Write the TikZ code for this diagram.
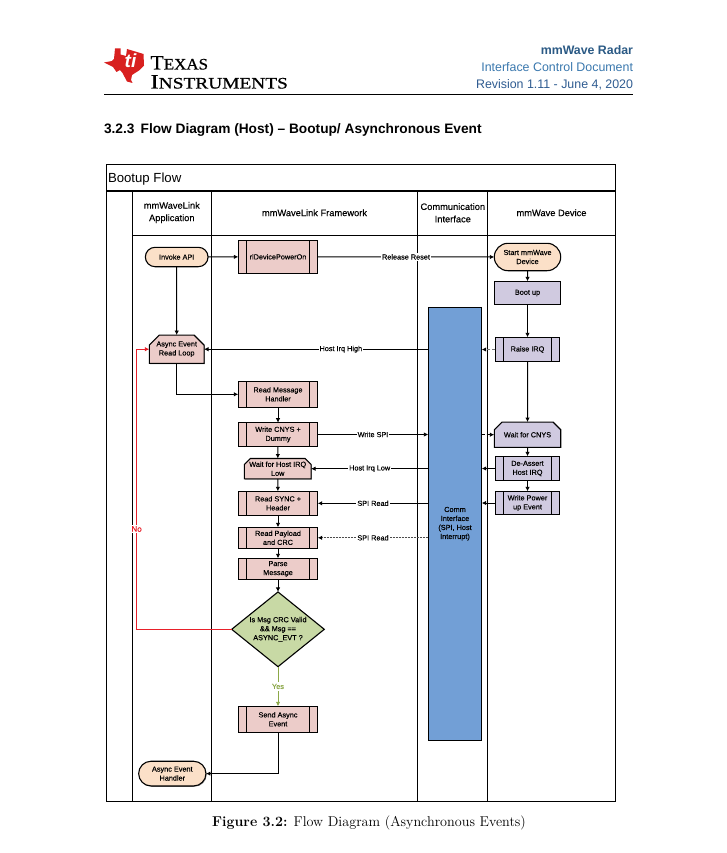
\documentclass[tikz,border=0pt]{standalone}
\usepackage{graphicx}
\usepackage{fontspec}
\setsansfont{Liberation Sans}
\newfontfamily\tifont[FakeBold=0.6]{Liberation Serif}
\newfontfamily\boxfont[FakeBold=0.25]{Liberation Sans}
\usetikzlibrary{arrows.meta,shapes.misc,shapes.geometric,shadows}
\definecolor{procpink}{HTML}{ECCCC9}
\definecolor{startor}{HTML}{FBE0C8}
\definecolor{devpurple}{HTML}{D0CAE0}
\definecolor{decgreen}{HTML}{C8D9A5}
\definecolor{commblue}{HTML}{729FD6}
\definecolor{nored}{HTML}{E8202A}
\definecolor{yesgreen}{HTML}{8CA848}
\definecolor{tired}{HTML}{D8201F}
\definecolor{hdrA}{HTML}{2B5A85}
\definecolor{hdrB}{HTML}{3A78AE}
\definecolor{hdrC}{HTML}{2F5C91}
\tikzset{
  x=1pt,y=-1pt,
  every node/.style={font=\boxfont\fontsize{7.3}{9}\selectfont,align=center,inner sep=0pt,outer sep=0pt,text=black},
  boxline/.style={draw=black,line width=1.1pt},
  proc/.style={boxline,rectangle,fill=#1,minimum width=79.4pt,
    path picture={\draw[line width=1.1pt]
      ([xshift=8.2pt]path picture bounding box.north west)--([xshift=8.2pt]path picture bounding box.south west)
      ([xshift=-8.2pt]path picture bounding box.north east)--([xshift=-8.2pt]path picture bounding box.south east);}},
  softshadow/.style={drop shadow={shadow xshift=0.8pt,shadow yshift=-0.8pt,fill=black,opacity=0.45}},
  term/.style={boxline,rounded rectangle,fill=startor},
  prep/.style={boxline,chamfered rectangle,chamfered rectangle corners={north west,north east},chamfered rectangle xsep=5pt,chamfered rectangle ysep=5pt,fill=#1},
  plainbox/.style={boxline,rectangle,fill=#1},
  link/.style={draw=black,line width=1pt,-{Latex[length=4.5pt,width=4.5pt,black]}},
  lab/.style={fill=white,inner xsep=1pt,inner ysep=1.5pt},
  lane/.style={draw=black,line width=1.1pt},
  hd/.style={font=\boxfont\fontsize{9.3}{12.4}\selectfont},
}
\begin{document}
\begin{tikzpicture}
\useasboundingbox (0,0) rectangle (727,853);
\fill[white] (0,0) rectangle (727,853);

% logo
\fill[tired] (115,48.5) -- (120.5,48.5) -- (120.5,54.5) -- (126,56) -- (127,49) -- (143.5,54) -- (144,65.5)
  -- (139,70.5) -- (132,75) -- (131,80) -- (132.5,83) -- (127,81.5) -- (122.5,73) -- (120,70) -- (116.5,72)
  -- (113,67) -- (104,62.5) -- (112,61) -- (114,59) -- cycle;
\node[text=white,font=\sffamily\bfseries\itshape\fontsize{19}{19}\selectfont] (tiglyph) at (130.5,61) {ti};
\node[anchor=base west,font=\tifont\fontsize{20.5}{20}\selectfont] (texas) at (150.5,69.5) {\scalebox{1.06}[1]{T\fontsize{16}{16}\selectfont EXAS}};
\node[anchor=base west,font=\tifont\fontsize{20.5}{20}\selectfont] (instr) at (150.5,88.5) {\scalebox{1.21}[1]{I\fontsize{16}{16}\selectfont NSTRUMENTS}};

% header
\node[anchor=east,text=hdrA,font=\sffamily\bfseries\fontsize{12.35}{12}\selectfont] (h1) at (633,50) {mmWave Radar};
\node[anchor=east,text=hdrB,font=\sffamily\fontsize{12.4}{12}\selectfont] (h2) at (633,67.5) {Interface Control Document};
\node[anchor=east,text=hdrC,font=\sffamily\fontsize{12.4}{12}\selectfont] (h3) at (633,85) {Revision 1.11 - June 4, 2020};
\draw[line width=0.9pt] (104,94.7) -- (633,94.7);
\node[anchor=west,font=\sffamily\bfseries\fontsize{13.7}{14}\selectfont] (sec) at (104,129.7) {3.2.3\hspace{0.45em}Flow Diagram (Host) -- Bootup/ Asynchronous Event};

% frame and lanes
\draw[lane] (106.7,164.3) rectangle (615.6,801.3);
\draw[draw=black,line width=1.6pt] (106.7,190.9) -- (615.6,190.9);
\draw[lane] (132.4,235.4) -- (615.6,235.4);
\draw[lane] (132.4,190.9) -- (132.4,801.3);
\draw[lane] (211.3,190.9) -- (211.3,801.3);
\draw[lane] (417.6,190.9) -- (417.6,801.3);
\draw[lane] (487.6,190.9) -- (487.6,801.3);

\node[anchor=west,font=\sffamily\fontsize{13.2}{14}\selectfont] (title) at (108,178.8) {Bootup Flow};
\node[hd] (lanea) at (171.8,212.5) {mmWaveLink\\Application};
\node[hd] (laneb) at (314.5,212.8) {mmWaveLink Framework};
\node[hd] (lanec) at (452.8,212.8) {Communication\\Interface};
\node[hd] (laned) at (551.5,212.8) {mmWave Device};

% nodes
\node[term,minimum width=62.7pt,minimum height=19.4pt] (invoke) at (176.7,257) {Invoke API};
\node[proc=procpink,minimum height=33pt] (power) at (278,256.8) {rlDevicePowerOn};
\node[term,minimum width=66.4pt,minimum height=27.4pt] (start) at (527.5,257) {Start mmWave\\Device};
\node[plainbox=devpurple,minimum width=66.4pt,minimum height=23.4pt] (boot) at (527.5,293) {Boot up};
\node[plainbox=commblue,minimum width=53.4pt,minimum height=433.3pt] (comm) at (455,523.7) {Comm\\Interface\\(SPI, Host\\Interrupt)};
\node[prep=procpink,softshadow,minimum width=54.7pt,minimum height=28.3pt] (loop) at (176.7,349.2) {Async Event\\Read Loop};
\node[proc=devpurple,minimum width=64.4pt,minimum height=24.4pt] (raise) at (527.5,349.5) {Raise IRQ};
\node[proc=procpink,minimum height=26pt] (readmsg) at (278,394.3) {Read Message\\Handler};
\node[proc=procpink,minimum height=23.6pt] (writecnys) at (278,434.5) {Write CNYS +\\Dummy};
\node[prep=devpurple,minimum width=66.4pt,minimum height=25.3pt] (waitcnys) at (527.5,434.7) {Wait for CNYS};
\node[prep=procpink,softshadow,chamfered rectangle xsep=3pt,chamfered rectangle ysep=3pt,minimum width=66.7pt,minimum height=20pt] (waithost) at (277.7,468.7) {Wait for Host IRQ\\Low};
\node[proc=devpurple,minimum width=64.4pt,minimum height=24.4pt] (deassert) at (527.5,468.5) {De-Assert\\Host IRQ};
\node[proc=procpink,minimum height=24pt] (readsync) at (278,503.3) {Read SYNC +\\Header};
\node[proc=devpurple,minimum width=64.4pt,minimum height=23.4pt] (writepower) at (527.5,503) {Write Power\\up Event};
\node[proc=procpink,minimum height=21pt] (readpay) at (278,537.8) {Read Payload\\and CRC};
\node[proc=procpink,minimum height=21pt] (parse) at (278,568.8) {Parse\\Message};
\node[boxline,diamond,fill=decgreen,minimum width=92.6pt,minimum height=74.7pt,aspect=1.24] (valid) at (278,629.3) {};
\node (validtext) at (278,629.3) {Is Msg CRC Valid\\\&\& Msg ==\\ASYNC\_EVT ?};
\node[proc=procpink,minimum height=26pt] (send) at (278,719.3) {Send Async\\Event};
\node[term,softshadow,minimum width=67.3pt,minimum height=24.7pt] (handler) at (172.3,773.6) {Async Event\\Handler};
\coordinate (redcorner) at (136.4,349.2);

% connectors
\draw[link] (invoke) -- (power);
\draw[link] (invoke) -- (loop);
\draw[link] (power) -- node[lab,pos=0.5]{Release Reset} (start);
\draw[link] (start) -- (boot);
\draw[link] (boot) -- (raise);
\draw[link] (raise) -- (waitcnys);
\draw[link] (waitcnys) -- (deassert);
\draw[link] (deassert) -- (writepower);
\draw[link] (comm.west |- loop.east) -- node[lab,pos=0.39]{Host Irq High} (loop.east);
\draw[link,densely dashed,draw=black!55] (raise.west) -- (comm.east |- raise.west);
\draw[link] (loop.south) |- (readmsg.west);
\draw[link] (readmsg) -- (writecnys);
\draw[link] (writecnys) -- (waithost);
\draw[link] (waithost) -- (readsync);
\draw[link] (readsync) -- (readpay);
\draw[link] (readpay) -- (parse);
\draw[link] (parse) -- (valid);
\draw[link] (writecnys.east) -- node[lab,pos=0.5]{Write SPI} (comm.west |- writecnys.east);
\draw[link,dash pattern=on 3pt off 2pt] (comm.east |- waitcnys.west) -- (waitcnys.west);
\draw[link] (comm.west |- waithost.east) -- node[lab,pos=0.5]{Host Irq Low} (waithost.east);
\draw[link] (deassert.west) -- (comm.east |- deassert.west);
\draw[link] (comm.west |- readsync.east) -- node[lab,pos=0.5]{SPI Read} (readsync.east);
\draw[link] (writepower.west) -- (comm.east |- writepower.west);
\draw[link,dash pattern=on 2pt off 1pt,draw=black!70] (comm.west |- readpay.east) -- node[lab,pos=0.5]{SPI Read} (readpay.east);
\draw[link,draw=nored,-{Latex[length=4.5pt,width=4.5pt,nored]}] (valid.west) -| (redcorner) -- (loop.west);
\node[lab,text=nored,font=\boxfont\fontsize{8}{9}\selectfont] (nolabel) at (136.6,529) {No};
\draw[link,draw=yesgreen,-{Latex[length=4.5pt,width=4.5pt,yesgreen]}] (valid.south) -- node[lab,pos=0.5,text=yesgreen]{Yes} (send.north);
\draw[link] (send.south) |- (handler.east);

\node[font=\rmfamily\fontsize{14.2}{16}\selectfont] (caption) at (369,823) {\textbf{Figure 3.2:} Flow Diagram (Asynchronous Events)};
\end{tikzpicture}
\end{document}
